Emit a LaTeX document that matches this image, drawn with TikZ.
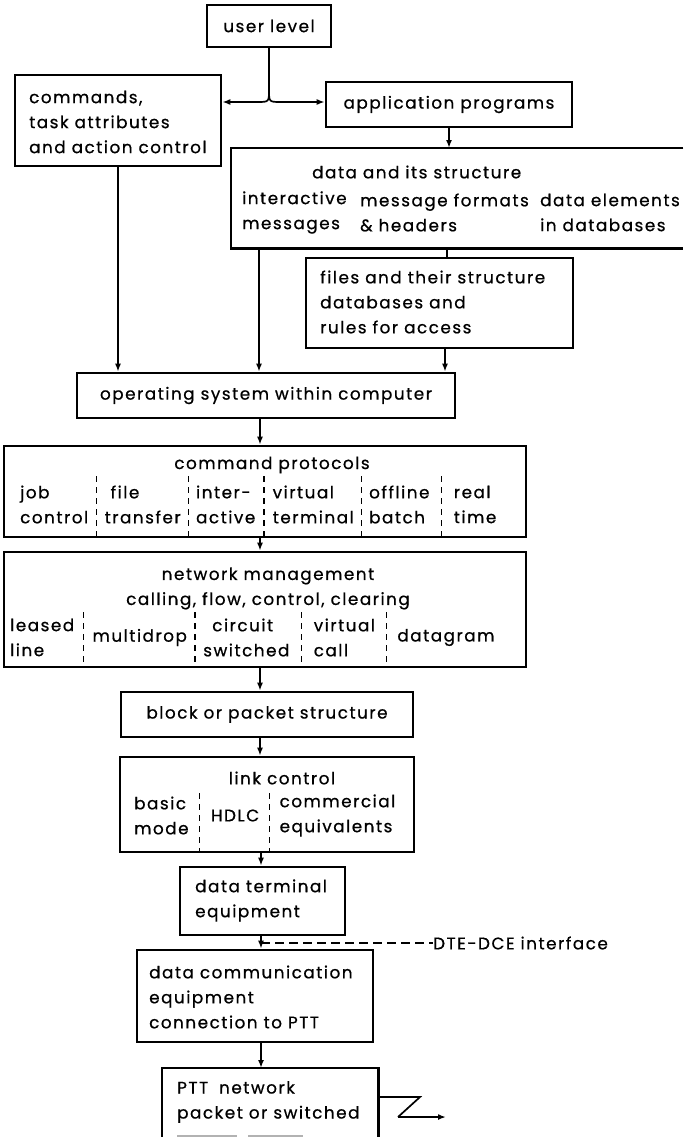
\documentclass[tikz,border=0pt]{standalone}
\usepackage{fontspec}
\setmainfont{Poppins}[LetterSpace=9,FakeBold=0.7]
\usetikzlibrary{arrows.meta,positioning,calc}
\begin{document}
\begin{tikzpicture}[x=1pt,y=-1pt,
  every node/.style={font=\fontsize{16.8}{25}\selectfont},
  box/.style={draw, line width=2.6pt, inner sep=0pt},
  frame/.style={inner sep=0pt},
  boxline/.style={line width=2.6pt},
  txt/.style={inner sep=0pt, align=left},
  ctxt/.style={inner sep=0pt, align=center},
  conn/.style={line width=1.7pt},
  arr/.style={line width=1.7pt, -{Latex[length=8pt,width=6pt]}},
  sepline/.style={line width=1.3pt, dash pattern=on 6pt off 5pt},
  dline/.style={line width=1.5pt, dash pattern=on 9pt off 5pt},
]
\path[use as bounding box] (0,0) rectangle (683,1137);

% ---------- boxes ----------
\node[box, minimum width=124pt, minimum height=42pt] (user) at (269,26) {};
\node[ctxt] (usert) at (user.center) {user level};

\node[box, minimum width=206pt, minimum height=91pt] (cmds) at (118,120.5) {};
\node[txt, anchor=west] (cmdst) at (29,122) {commands,\\task attributes\\and action control};

\node[box, minimum width=246pt, minimum height=45pt] (app) at (449,104.5) {};
\node[ctxt] (appt) at (app.center) {application programs};

\node[frame, minimum width=452pt, minimum height=100pt, anchor=north west] (data) at (231,148) {};
\draw[boxline] (data.north east) -- (data.north west) -- (data.south west) -- (data.south east);
\node[txt, anchor=west] (datat) at (312,172) {data and its structure};
\node[txt, anchor=west] (data1) at (242,212.5) {interactive\\messages};
\node[txt, anchor=west] (data2) at (360,212.5) {message formats\\\& headers};
\node[txt, anchor=west] (data3) at (540,212.5) {data elements\\in databases};

\node[box, minimum width=267pt, minimum height=90pt] (files) at (439.5,303) {};
\node[txt, anchor=west] (filest) at (320,302) {files and their structure\\databases and\\rules for access};

\node[box, minimum width=378pt, minimum height=45pt] (os) at (266,395.5) {};
\node[ctxt] (ost) at (os.center) {operating system within computer};

% command protocols
\node[box, minimum width=522pt, minimum height=91pt] (cp) at (265,491.5) {};
\node[ctxt] (cpt) at (272,465) {command protocols};
\node[txt, anchor=west] (cp1) at (20,504.5) {job\\control};
\node[txt, right=16pt of cp1] (cp2) {\hspace*{6pt}file\\transfer};
\node[txt, right=15pt of cp2] (cp3) {inter-\\active};
\node[txt, right=17pt of cp3] (cp4) {virtual\\terminal};
\node[txt, right=15pt of cp4] (cp5) {offline\\batch};
\node[txt, right=24pt of cp5] (cp6) {real\\time};
\coordinate (cptop) at (0,476);
\foreach \a/\b [count=\i] in {cp1/cp2,cp2/cp3,cp3/cp4,cp4/cp5,cp5/cp6}{
  \coordinate (cps\i) at ($(\a.east)!0.5!(\b.west)$);
  \draw[sepline] (cps\i |- cptop) -- (cps\i |- cp.south);
}

% network management
\node[box, minimum width=522pt, minimum height=115pt] (net) at (265,609.5) {};
\node[ctxt] (nett) at (268,588.5) {network management\\calling, flow, control, clearing};
\node[txt, anchor=west] (n1) at (10,637.5) {leased\\line};
\node[txt, right=18pt of n1] (n2) {multidrop};
\node[txt, right=16pt of n2] (n3) {\hspace*{9pt}circuit\\switched};
\node[txt, right=24pt of n3] (n4) {virtual\\call};
\node[txt, right=22pt of n4] (n5) {datagram};
\coordinate (ntop) at (0,612);
\foreach \a/\b [count=\i] in {n1/n2,n2/n3,n3/n4,n4/n5}{
  \coordinate (ns\i) at ($(\a.east)!0.5!(\b.west)$);
  \draw[sepline] (ns\i |- ntop) -- (ns\i |- net.south);
}

\node[box, minimum width=292pt, minimum height=45pt] (block) at (267,714.5) {};
\node[ctxt] (blockt) at (block.center) {block or packet structure};

% link control
\node[box, minimum width=294pt, minimum height=95pt] (link) at (267,804.5) {};
\node[ctxt] (linkt) at (282,778) {link control};
\node[txt, anchor=west] (l1) at (134,815.5) {basic\\mode};
\node[txt, right=22pt of l1] (l2) {HDLC};
\node[txt, right=20pt of l2] (l3) {commercial\\equivalents};
\coordinate (ltop) at (0,793);
\foreach \a/\b [count=\i] in {l1/l2,l2/l3}{
  \coordinate (ls\i) at ($(\a.east)!0.5!(\b.west)$);
  \draw[sepline] (ls\i |- ltop) -- (ls\i |- link.south);
}

\node[box, minimum width=165pt, minimum height=68pt] (dte) at (262.5,901) {};
\node[txt, anchor=west] (dtet) at (195,900.5) {data terminal\\equipment};

\node[box, minimum width=236pt, minimum height=92pt] (dce) at (255,996) {};
\node[txt, anchor=west] (dcet) at (149,997) {data communication\\equipment\\connection to PTT};

\node[frame, minimum width=216pt, minimum height=69pt, anchor=north west] (ptt) at (162,1068) {};
\draw[boxline] (ptt.south west) -- (ptt.north west) -- (ptt.north east) -- (ptt.south east);
\node[txt, anchor=west] (pttt) at (177,1102) {PTT\hspace{11pt}network\\packet or switched};
\fill[gray!60] (177,1134.5) rectangle (237,1137);
\fill[gray!60] (248,1134.5) rectangle (303,1137);

% ---------- connectors ----------
\coordinate (j) at (269,90);
\coordinate (jl) at (257,102);
\coordinate (jr) at (281,102);
\draw[conn] (user.south) -- (j);
\draw[arr] (j) .. controls (269,102) .. (jl) -- (cmds.east |- jl);
\draw[arr] (j) .. controls (269,102) .. (jr) -- (app.west |- jr);

\draw[arr] (app.south) -- (app.south |- data.north);
\coordinate (df) at (447,248);
\draw[conn] (df) -- (df |- files.north);

\draw[arr] (cmds.south) -- (cmds.south |- os.north);
\coordinate (dos) at (259,248);
\draw[arr] (dos) -- (dos |- os.north);
\coordinate (fos) at (445,348);
\draw[arr] (fos) -- (fos |- os.north);

\coordinate (c) at (260,0);
\draw[arr] (c |- os.south) -- (c |- cp.north);
\draw[arr] (c |- cp.south) -- (c |- net.north);
\draw[arr] (c |- net.south) -- (c |- block.north);
\draw[arr] (c |- block.south) -- (c |- link.north);
\coordinate (c2) at (261,0);
\draw[arr] (c2 |- link.south) -- (c2 |- dte.north);
\draw[arr] (c2 |- dte.south) -- (c2 |- dce.north);
\draw[arr] (c2 |- dce.south) -- (c2 |- ptt.north);

\node[txt, anchor=west] (iface) at (433,943) {DTE-DCE interface};
\draw[dline] (c2 |- iface.west) -- (iface.west);

\coordinate (z1) at (420,1097);
\coordinate (z2) at (398,1117);
\coordinate (z3) at (446,1117);
\draw[conn] (ptt.east |- z1) -- (z1) -- (z2);
\draw[arr] (z2) -- (z3);
\end{tikzpicture}
\end{document}
